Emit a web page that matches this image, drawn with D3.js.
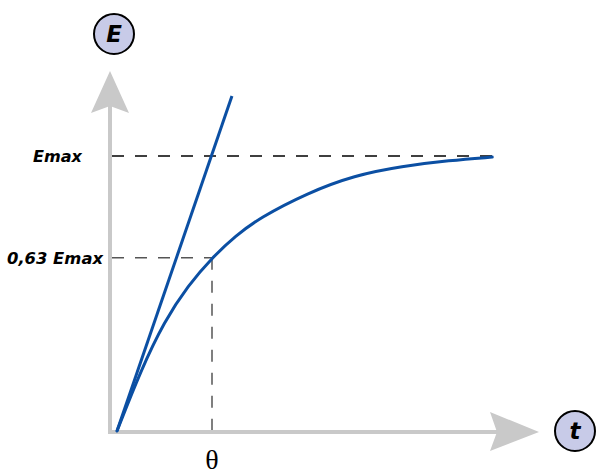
<!DOCTYPE html>
<html><head><meta charset="utf-8">
<script src="https://cdn.jsdelivr.net/npm/d3@7"></script>
<style>body{margin:0;background:#fff}svg{display:block}</style>
</head><body>
<script>
// Data (t in units of θ, E in units of Emax)
const curveT = [0, 0.25, 0.5, 0.75, 1, 1.25, 1.5, 2, 2.5, 3, 3.5, 3.95];
const curveE = [0, 0.22, 0.40, 0.53, 0.63, 0.71, 0.775, 0.865, 0.93, 0.963, 0.984, 0.996];
const tangentT = [0, 1.21];
const tangentE = [0, 1.218];
const levelLabels = ["Emax", "0,63 Emax"];
const levelValues = [1, 0.63];
const thetaValue = 1;
const axisTitles = ["E", "t"];

const W = 599, H = 476;
const svg = d3.select("body").append("svg").attr("width", W).attr("height", H);

const x = d3.scaleLinear().domain([0, 1]).range([117, 212]);
const y = d3.scaleLinear().domain([0, 1]).range([431, 156]);

const gray = "#c9c9c9", blue = "#0b4fa3";

// axes
const ax0 = 110, ay0 = 432;
svg.append("line").attr("x1", ax0).attr("y1", ay0 + 2).attr("x2", ax0).attr("y2", 105)
  .attr("stroke", gray).attr("stroke-width", 4);
svg.append("line").attr("x1", ax0 - 2).attr("y1", ay0).attr("x2", 497).attr("y2", ay0)
  .attr("stroke", gray).attr("stroke-width", 4);
// arrowheads
svg.append("path").attr("d", `M${ax0},71 L${ax0 + 19},113 L${ax0},106 L${ax0 - 19},113 Z`).attr("fill", gray);
svg.append("path").attr("d", `M539,${ay0} L490,${ay0 - 20} L497,${ay0} L490,${ay0 + 19} Z`).attr("fill", gray);

// dashed reference lines
svg.append("line").attr("x1", 112).attr("x2", 502).attr("y1", y(levelValues[0])).attr("y2", y(levelValues[0]))
  .attr("stroke", "#000").attr("stroke-width", 1.3).attr("stroke-dasharray", "12,11");
svg.append("line").attr("x1", 112).attr("x2", x(thetaValue)).attr("y1", y(levelValues[1])).attr("y2", y(levelValues[1]))
  .attr("stroke", "#555").attr("stroke-width", 1.5).attr("stroke-dasharray", "12,11");
svg.append("line").attr("x1", x(thetaValue)).attr("x2", x(thetaValue)).attr("y1", y(levelValues[1])).attr("y2", ay0 - 2)
  .attr("stroke", "#555").attr("stroke-width", 1.5).attr("stroke-dasharray", "12,11");

// curves
const line = d3.line().x(d => x(d[0])).y(d => y(d[1])).curve(d3.curveBasis);
svg.append("path").datum(curveT.map((t, i) => [t, curveE[i]])).attr("d", line)
  .attr("fill", "none").attr("stroke", blue).attr("stroke-width", 3).attr("stroke-linecap", "round");
svg.append("path").datum(tangentT.map((t, i) => [t, tangentE[i]])).attr("d", d3.line().x(d => x(d[0])).y(d => y(d[1])))
  .attr("fill", "none").attr("stroke", blue).attr("stroke-width", 3);

// level labels
const labelX = [82, 103], labelLen = [49, 96];
levelLabels.forEach((s, i) => {
  svg.append("text").attr("x", labelX[i]).attr("y", y(levelValues[i]) + 6)
    .attr("text-anchor", "end").attr("font-family", "DejaVu Sans").attr("font-weight", "bold")
    .attr("font-style", "italic").attr("font-size", 15).attr("fill", "#000")
    .attr("textLength", labelLen[i]).attr("lengthAdjust", "spacingAndGlyphs").text(s);
});

// theta label
svg.append("text").attr("x", x(thetaValue)).attr("y", 469).attr("text-anchor", "middle")
  .attr("font-family", "Liberation Serif").attr("font-size", 28).attr("fill", "#000").text("θ");

// axis title badges
const badges = [[114, 34, axisTitles[0]], [575, 431, axisTitles[1]]];
badges.forEach(([cx, cy, s]) => {
  svg.append("circle").attr("cx", cx).attr("cy", cy).attr("r", 20)
    .attr("fill", "#c8cbe8").attr("stroke", "#000").attr("stroke-width", 2);
  svg.append("text").attr("x", cx).attr("y", cy + 8).attr("text-anchor", "middle")
    .attr("font-family", "DejaVu Sans").attr("font-weight", "bold").attr("font-style", "italic")
    .attr("font-size", 23).attr("fill", "#000").text(s);
});
</script>
</body></html>
